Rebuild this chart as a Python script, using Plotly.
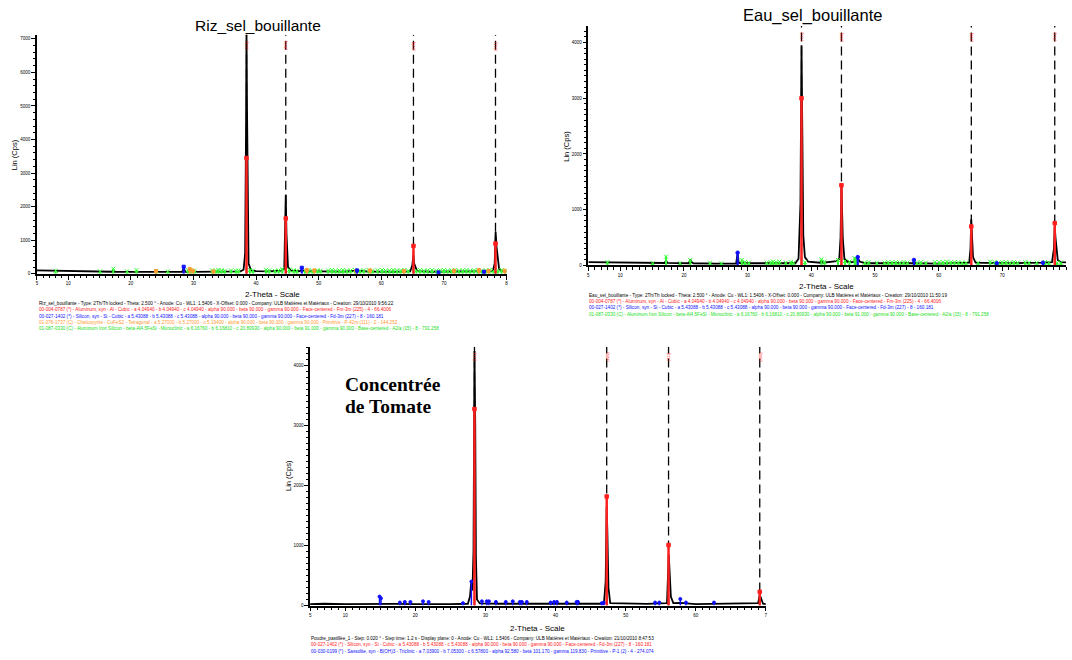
import plotly.graph_objects as go

W, H = 1072, 660

# ---------------- DATA ----------------
# Panel 1 : Riz_sel_bouillante
riz_x = [5, 6, 7, 8, 9, 10, 12, 14, 16, 17.0, 17.2, 17.4, 19, 21, 23, 25, 27, 28.2, 28.44, 28.7,
         30, 32, 34, 36, 37.5, 38.0, 38.25, 38.4, 38.47, 38.55, 38.65, 38.8, 39.2, 40, 42, 44.0,
         44.5, 44.65, 44.74, 44.85, 44.95, 45.1, 45.6, 47.0, 47.3, 47.6, 50, 54, 56.1, 58, 62,
         64.6, 64.95, 65.12, 65.25, 65.4, 65.7, 68, 72, 76, 77.8, 78.1, 78.25, 78.4, 78.55, 78.8,
         79.2, 80]
riz_y = [100, 95, 90, 85, 80, 75, 70, 65, 60, 60, 95, 60, 58, 60, 55, 55, 55, 60, 160, 60,
         55, 55, 55, 60, 70, 120, 600, 4500, 7300, 5000, 1500, 300, 100, 80, 70, 90,
         150, 1400, 2350, 1200, 700, 200, 90, 80, 130, 80, 70, 65, 90, 65, 60,
         70, 250, 560, 300, 200, 80, 60, 60, 60, 80, 300, 1250, 800, 500, 150,
         80, 70]
riz_al_x = [38.47, 44.74, 65.13, 78.23]
riz_al_y = [3450, 1650, 830, 900]
riz_al_hkl = ["(111)", "(200)", "(220)", "(311)"]
riz_si_x = [28.44, 47.30, 56.12, 69.13, 76.38]
riz_si_y = [210, 180, 100, 40, 60]
riz_cp_x = [24.0, 29.4, 29.9, 33.2, 48.1, 49.3, 56.0, 58.2, 63.6, 71.6, 75.6, 77.1, 79.7]
riz_cp_y = [80, 140, 90, 70, 110, 100, 90, 100, 80, 90, 110, 80, 90]
riz_gr_x = [8.0, 15.1, 17.2, 19.4, 20.9, 24.1, 25.9, 29.1, 29.6, 30.2, 33.0, 33.6, 34.0, 34.5,
            35.0, 36.0, 36.8, 37.2, 39.0, 39.5, 41.6, 42.1, 43.0, 43.6, 44.2, 45.3, 46.0, 46.5,
            47.8, 48.4, 49.0, 49.8, 50.3, 51.5, 52.1, 52.7, 53.3, 53.9, 54.5, 55.1, 55.8, 56.6,
            57.2, 58.0, 58.6, 59.4, 60.1, 60.7, 61.3, 61.9, 62.5, 63.1, 63.7, 64.3, 65.6, 66.2,
            66.8, 67.4, 68.1, 68.8, 69.4, 70.0, 70.6, 71.2, 71.8, 72.4, 73.0, 73.6, 74.2, 74.8,
            75.4, 76.0, 76.7, 77.3, 77.9, 78.6, 79.2, 79.8]
riz_gr_y = [90, 70, 150, 70, 110, 80, 70, 110, 90, 90, 100, 90, 110, 100,
            90, 100, 90, 100, 110, 90, 120, 100, 90, 100, 140, 120, 100, 90,
            100, 110, 90, 100, 90, 100, 110, 90, 100, 110, 90, 100, 110, 90,
            100, 110, 90, 100, 110, 90, 100, 110, 90, 100, 110, 90, 100, 110,
            90, 100, 110, 90, 100, 110, 90, 100, 110, 90, 100, 110, 90, 100,
            110, 90, 100, 110, 90, 100, 110, 90]

# Panel 2 : Eau_sel_bouillante
eau_x = [5, 8, 10, 15, 17.0, 17.2, 17.4, 20.8, 21.0, 21.2, 21.5, 25, 28.2, 28.44, 28.6, 29, 33,
         37.5, 38.0, 38.3, 38.47, 38.6, 38.75, 39.0, 39.5, 41.4, 41.6, 41.8, 44.0, 44.4, 44.6,
         44.74, 44.85, 44.95, 45.2, 45.8, 46.5, 47.1, 47.3, 47.6, 48.5, 52, 56.0, 56.12, 56.3,
         60, 64.8, 65.0, 65.12, 65.25, 65.4, 65.8, 70, 76.4, 77.8, 78.1, 78.23, 78.35, 78.5,
         78.7, 79.2, 80]
eau_y = [60, 55, 50, 45, 45, 90, 45, 40, 110, 60, 40, 35, 35, 220, 50, 40, 35,
         40, 120, 1100, 3950, 1500, 540, 150, 70, 50, 90, 50, 80, 120, 500,
         1450, 900, 490, 120, 60, 60, 90, 140, 70, 40, 35, 40, 100, 40,
         35, 50, 300, 830, 520, 150, 50, 40, 50, 60, 300, 700, 500, 330,
         100, 60, 55]
eau_al_x = [38.47, 44.74, 65.13, 78.23]
eau_al_y = [3000, 1440, 700, 760]
eau_al_hkl = ["(111)", "(200)", "(220)", "(311)"]
eau_si_x = [28.44, 47.30, 56.12, 69.13, 76.38]
eau_si_y = [230, 150, 100, 40, 50]
eau_gr_x = [8.0, 15.1, 17.2, 19.4, 21.0, 24.1, 25.9, 29.1, 29.6, 30.2, 33.0, 33.6, 34.0, 34.5,
            35.0, 36.0, 36.8, 37.2, 39.0, 41.6, 42.1, 44.2, 45.3, 46.0, 46.8, 47.0, 48.4, 49.0,
            50.3, 51.5, 52.1, 52.7, 53.3, 53.9, 54.5, 55.1, 56.6, 57.2, 58.0, 59.4, 60.1, 60.7,
            61.3, 61.9, 62.5, 63.1, 63.7, 64.3, 66.2, 68.1, 68.8, 69.4, 70.0, 70.6, 71.2, 71.8,
            72.4, 73.6, 74.2, 75.4, 76.7, 77.3, 78.6, 79.2]
eau_gr_y = [60, 40, 160, 40, 100, 50, 40, 100, 60, 50, 50, 60, 70, 60,
            70, 50, 60, 50, 60, 110, 70, 100, 80, 70, 130, 120, 50, 60,
            50, 50, 60, 60, 60, 50, 60, 50, 50, 60, 50, 60, 60, 60,
            70, 60, 60, 60, 50, 50, 50, 70, 60, 50, 60, 60, 50, 60,
            50, 60, 50, 50, 60, 50, 50, 50]

# Panel 3 : Concentrée de Tomate
tom_x = [5, 7, 10, 12, 14.8, 15.0, 15.2, 17, 20, 22, 25, 27.5, 27.8, 28.0, 28.15, 28.3, 28.44,
         28.55, 28.65, 28.8, 29.2, 32, 35, 38, 40, 43, 46.9, 47.15, 47.3, 47.4, 47.55, 47.8,
         50, 53, 55.9, 56.05, 56.15, 56.3, 56.45, 56.8, 57.8, 60, 62, 65, 68.9, 69.13, 69.35,
         69.6, 70]
tom_y = [25, 30, 25, 28, 25, 35, 25, 28, 25, 30, 25, 30, 150, 420, 250, 900, 4250,
         3000, 800, 100, 35, 30, 28, 25, 28, 25, 30, 400, 1650, 1200, 300, 40,
         30, 28, 40, 400, 850, 500, 150, 40, 45, 25, 28, 25, 40, 180, 100,
         30, 25]
tom_si_x = [28.44, 47.30, 56.12, 69.13]
tom_si_y = [3280, 1820, 1010, 230]
tom_si_hkl = ["(111)", "(220)", "(311)", "(400)"]
tom_sa_x = [14.9, 15.1, 17.8, 18.5, 19.3, 21.1, 21.9, 26.8, 28.0, 29.5, 30.2, 30.5, 31.5, 32.9,
            33.9, 34.9, 35.2, 35.9, 39.3, 39.8, 40.2, 41.6, 43.0, 43.2, 46.6, 46.9, 54.2, 54.8,
            57.8, 58.6, 62.6]
tom_sa_y = [150, 120, 50, 60, 60, 70, 60, 40, 400, 70, 70, 70, 60, 60,
            70, 60, 60, 60, 50, 60, 60, 50, 60, 60, 40, 50, 50, 50,
            110, 50, 50]

x_ticks_80 = [5, 10, 20, 30, 40, 50, 60, 70, 80]
x_text_riz = ["5", "10", "20", "30", "40", "50", "60", "70", "8"]
x_ticks_eau = [5, 10, 20, 30, 40, 50, 60, 70]
x_text_eau = ["5", "10", "20", "30", "40", "50", "60", "70"]
x_ticks_tom = [5, 10, 20, 30, 40, 50, 60, 70]
x_text_tom = ["5", "10", "20", "30", "40", "50", "60", "7"]

cap_riz = [
    "Riz_sel_bouillante - Type: 2Th/Th locked - Theta: 2.500 ° - Anode: Cu - WL1: 1.5406 - X-Offset: 0.000 - Company: ULB Matières et Matériaux - Creation: 29/10/2010 9:56:22",
    "00-004-0787 (*) - Aluminum, syn - Al - Cubic - a 4.04940 - b 4.04940 - c 4.04940 - alpha 90.000 - beta 90.000 - gamma 90.000 - Face-centered - Fm-3m (225) - 4 - 66.4006",
    "00-027-1402 (*) - Silicon, syn - Si - Cubic - a 5.43088 - b 5.43088 - c 5.43088 - alpha 90.000 - beta 90.000 - gamma 90.000 - Face-centered - Fd-3m (227) - 8 - 160.181",
    "01-076-1737 (C) - Chalcopyrite - CuFeS2 - Tetragonal - a 5.27000 - b 5.27000 - c 5.19400 - alpha 90.000 - beta 90.000 - gamma 90.000 - Primitive - P-42m (111) - 2 - 144.252",
    "01-087-0330 (C) - Aluminum Iron Silicon - beta-Al4.5FeSi - Monoclinic - a 6.16760 - b 6.16810 - c 20.80930 - alpha 90.000 - beta 91.000 - gamma 90.000 - Base-centered - A2/a (15) - 8 - 791.258",
]
cap_eau = [
    "Eau_sel_bouillante - Type: 2Th/Th locked - Theta: 2.500 ° - Anode: Cu - WL1: 1.5406 - X-Offset: 0.000 - Company: ULB Matières et Matériaux - Creation: 29/10/2010 11:50:19",
    "00-004-0787 (*) - Aluminum, syn - Al - Cubic - a 4.04940 - b 4.04940 - c 4.04940 - alpha 90.000 - beta 90.000 - gamma 90.000 - Face-centered - Fm-3m (225) - 4 - 66.4006",
    "00-027-1402 (*) - Silicon, syn - Si - Cubic - a 5.43088 - b 5.43088 - c 5.43088 - alpha 90.000 - beta 90.000 - gamma 90.000 - Face-centered - Fd-3m (227) - 8 - 160.181",
    "01-087-0330 (C) - Aluminum Iron Silicon - beta-Al4.5FeSi - Monoclinic - a 6.16760 - b 6.16810 - c 20.80930 - alpha 90.000 - beta 91.000 - gamma 90.000 - Base-centered - A2/a (15) - 8 - 791.258",
]
cap_tom = [
    "Poudre_pastillée_1 - Step: 0.020 ° - Step time: 1.2 s - Display plane: 0 - Anode: Cu - WL1: 1.5406 - Company: ULB Matières et Matériaux - Creation: 21/10/2010 8:47:53",
    "00-027-1402 (*) - Silicon, syn - Si - Cubic - a 5.43088 - b 5.43088 - c 5.43088 - alpha 90.000 - beta 90.000 - gamma 90.000 - Face-centered - Fd-3m (227) - 8 - 160.181",
    "00-030-0199 (*) - Sassolite, syn - B(OH)3 - Triclinic - a 7.03900 - b 7.05300 - c 6.57800 - alpha 92.580 - beta 101.170 - gamma 119.830 - Primitive - P-1 (2) - 4 - 274.074",
]

# ---------------- STYLE / LAYOUT ----------------
RED = "#FF2020"
BLUE = "#1010FF"
GREEN = "#33FF33"
ORANGE = "#FF9933"
FONT = "Liberation Sans, Arial, sans-serif"
SERIF = "Liberation Serif, Times New Roman, serif"


def fx(px):
    return px / W


def fy(py):
    return 1 - py / H


panels = [
    dict(key="", xr=(36, 507), yr=(35, 275), xrange=(5, 80), ytop=7119, yminor=200,
         ytickvals=[0, 1000, 2000, 3000, 4000, 5000, 6000, 7000], xt=x_ticks_80, xtt=x_text_riz),
    dict(key="2", xr=(589, 1068), yr=(26, 266.7), xrange=(5, 80), ytop=4298, yminor=100,
         ytickvals=[0, 1000, 2000, 3000, 4000], xt=x_ticks_eau, xtt=x_text_eau),
    dict(key="3", xr=(310, 767), yr=(348.3, 608.3), xrange=(5, 70), ytop=4320, yminor=100,
         ytickvals=[0, 1000, 2000, 3000, 4000], xt=x_ticks_tom, xtt=x_text_tom),
]

fig = go.Figure()


def add_pattern(xs, ys, key):
    fig.add_trace(go.Scatter(x=xs, y=ys, mode="lines", line=dict(color="black", width=1.8),
                             xaxis="x" + key, yaxis="y" + key, hoverinfo="skip"))


def add_sticks(xs, ys, key, color, width, symbol, msize):
    X, Y = [], []
    for a, b in zip(xs, ys):
        X += [a, a, None]
        Y += [0, b, None]
    fig.add_trace(go.Scatter(x=X, y=Y, mode="lines", line=dict(color=color, width=width),
                             xaxis="x" + key, yaxis="y" + key, hoverinfo="skip"))
    fig.add_trace(go.Scatter(x=xs, y=ys, mode="markers",
                             marker=dict(color=color, size=msize, symbol=symbol,
                                         line=dict(color=color, width=1)),
                             xaxis="x" + key, yaxis="y" + key, hoverinfo="skip"))


def add_dashed(xs, top, key):
    X, Y = [], []
    for a in xs:
        X += [a, a, None]
        Y += [0, top, None]
    fig.add_trace(go.Scatter(x=X, y=Y, mode="lines",
                             line=dict(color="black", width=1.3, dash="9px,5px"),
                             xaxis="x" + key, yaxis="y" + key, hoverinfo="skip"))


# Panel 1
add_pattern(riz_x, riz_y, "")
add_dashed(riz_al_x, panels[0]["ytop"], "")
add_sticks(riz_gr_x, riz_gr_y, "", GREEN, 2, "x-thin", 4)
add_sticks(riz_cp_x, riz_cp_y, "", ORANGE, 2, "square", 3)
add_sticks(riz_si_x, riz_si_y, "", BLUE, 2.2, "square", 3)
add_sticks(riz_al_x, riz_al_y, "", RED, 2.5, "square", 3.5)

# Panel 2
add_pattern(eau_x, eau_y, "2")
add_dashed(eau_al_x, panels[1]["ytop"], "2")
add_sticks(eau_gr_x, eau_gr_y, "2", GREEN, 2, "x-thin", 4)
add_sticks(eau_si_x, eau_si_y, "2", BLUE, 2.2, "circle", 3.5)
add_sticks(eau_al_x, eau_al_y, "2", RED, 2.5, "square", 3.5)

# Panel 3
add_pattern(tom_x, tom_y, "3")
add_dashed(tom_si_x, panels[2]["ytop"], "3")
add_sticks(tom_sa_x, tom_sa_y, "3", BLUE, 1.5, "circle", 3)
add_sticks(tom_si_x, tom_si_y, "3", RED, 2.5, "square", 3.5)

layout = dict(width=W, height=H, margin=dict(l=0, r=0, t=0, b=0), showlegend=False,
              paper_bgcolor="white", plot_bgcolor="rgba(0,0,0,0)",
              font=dict(family=FONT, color="black"))

for p in panels:
    k = p["key"]
    xa = dict(domain=[fx(p["xr"][0]), fx(p["xr"][1])], range=list(p["xrange"]),
              anchor="y" + k, showline=True, linecolor="black", linewidth=1.5,
              ticks="outside", ticklen=4, tickwidth=1, tickcolor="black",
              tickmode="array", tickvals=p["xt"], ticktext=p["xtt"],
              tickfont=dict(size=4.5, family=FONT), showgrid=False, zeroline=False,
              minor=dict(ticks="outside", ticklen=2.5, tickwidth=1, tickcolor="black",
                         dtick=1, tick0=5, showgrid=False))
    ya = dict(domain=[fy(p["yr"][1]), fy(p["yr"][0])], range=[0, p["ytop"]],
              anchor="x" + k, showline=True, linecolor="black", linewidth=1.5,
              ticks="outside", ticklen=4, tickwidth=1, tickcolor="black",
              tickmode="array", tickvals=p["ytickvals"],
              tickfont=dict(size=4.5, family=FONT), showgrid=False, zeroline=False,
              minor=dict(ticks="outside", ticklen=2.5, tickwidth=1, tickcolor="black",
                         dtick=p["yminor"], tick0=0, showgrid=False))
    layout["xaxis" + k] = xa
    layout["yaxis" + k] = ya

fig.update_layout(**layout)

ann = []


def text(px, py, s, size, color="black", xanchor="center", family=FONT, angle=0):
    ann.append(dict(x=fx(px), y=fy(py), xref="paper", yref="paper", text=s, showarrow=False,
                    xanchor=xanchor, yanchor="middle", textangle=angle,
                    font=dict(size=size, color=color, family=family)))


# titles
text(258, 26, "Riz_sel_bouillante", 15.5)
text(814, 16, "Eau_sel_bouillante", 16.5)
text(343, 386, "<b>Concentrée</b>", 19.5, xanchor="left", family=SERIF)
text(343, 408, "<b>de Tomate</b>", 19.5, xanchor="left", family=SERIF)

# axis titles
text(272, 296, "2-Theta - Scale", 8)
text(828, 288, "2-Theta - Scale", 8)
text(538, 631, "2-Theta - Scale", 8)
text(13, 155, "Lin (Cps)", 7.5, angle=-90)
text(567, 147, "Lin (Cps)", 7.5, angle=-90)
text(289, 478, "Lin (Cps)", 7.5, angle=-90)

# captions
cap_colors_riz = ["black", RED, BLUE, ORANGE, "#22DD22"]
for i, (s, c) in enumerate(zip(cap_riz, cap_colors_riz)):
    text(36, 305 + 6.3 * i, s, 4.65, color=c, xanchor="left")
cap_colors_eau = ["black", RED, BLUE, "#22DD22"]
for i, (s, c) in enumerate(zip(cap_eau, cap_colors_eau)):
    text(588, 297 + 6.2 * i, s, 4.65, color=c, xanchor="left")
cap_colors_tom = ["black", RED, BLUE]
for i, (s, c) in enumerate(zip(cap_tom, cap_colors_tom)):
    text(309, 641 + 6.5 * i, s, 4.6, color=c, xanchor="left")

fig.update_layout(annotations=ann)

# hkl labels at the top of the reference lines
for p, xs, hkls, ycen in [(panels[0], riz_al_x, riz_al_hkl, 0.955),
                          (panels[1], eau_al_x, eau_al_hkl, 0.955),
                          (panels[2], tom_si_x, tom_si_hkl, 0.96)]:
    k = p["key"]
    for a, h in zip(xs, hkls):
        fig.add_annotation(x=a, y=p["ytop"] * ycen, xref="x" + k, yref="y" + k, text=h,
                           showarrow=False, textangle=-90,
                           font=dict(size=4, color=RED, family=FONT))

fig.write_html("out.html", config={"displayModeBar": False},
               post_script="document.body.style.margin='0';document.body.style.overflow='hidden';")
